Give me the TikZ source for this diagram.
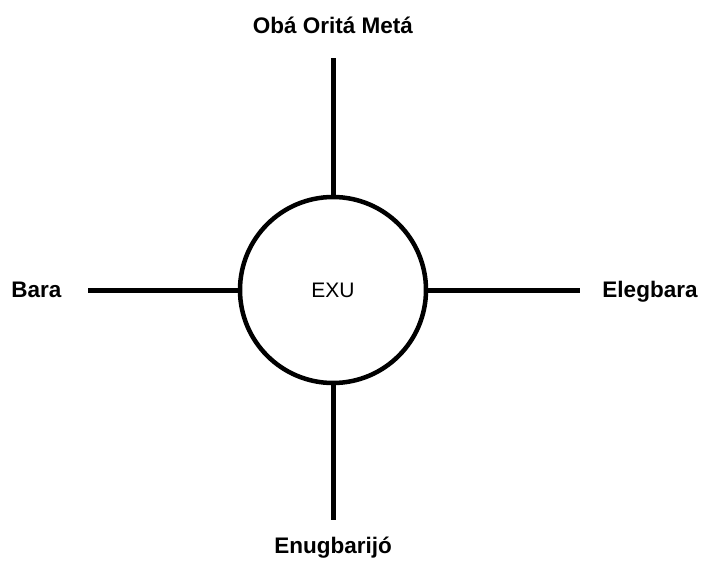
\documentclass[tikz,border=0pt]{standalone}
\usepackage{fontspec}
\setmainfont{Liberation Sans}
\usetikzlibrary{positioning}

\begin{document}
\begin{tikzpicture}[x=1pt, y=-1pt,
    hub/.style={circle, draw, line width=4.5pt, minimum size=186pt, font=\fontsize{21}{25}\selectfont},
    spoke/.style={line width=5pt},
    orixa/.style={anchor=base, font=\fontsize{22.5}{27}\selectfont\bfseries}]

    \useasboundingbox (0,0) rectangle (702,562);

    \node[hub] (exu) at (333,290) {EXU};

    % free ends of the four spokes
    \coordinate (topend) at (333,58);
    \coordinate (leftend) at (88,290);
    \coordinate (rightend) at (580,290);
    \coordinate (bottomend) at (333,520);

    \draw[spoke] (exu.north) -- (topend);
    \draw[spoke] (exu.west) -- (leftend);
    \draw[spoke] (exu.east) -- (rightend);
    \draw[spoke] (exu.south) -- (bottomend);

    \node[orixa] (oba) at (333,34) {Obá Oritá Metá};
    \node[orixa] (bara) at (36.5,297) {Bara};
    \node[orixa] (elegbara) at (650,297) {Elegbara};
    \node[orixa] (enugbarijo) at (333,553) {Enugbarijó};
\end{tikzpicture}
\end{document}
